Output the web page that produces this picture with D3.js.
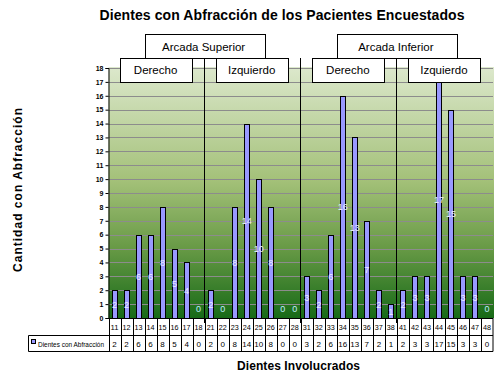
<!DOCTYPE html>
<html>
<head>
<meta charset="utf-8">
<script src="https://cdn.jsdelivr.net/npm/d3@7"></script>
<style>
  body { margin: 0; background: #fff; }
  svg { font-family: "Liberation Sans", Arial, sans-serif; }
</style>
</head>
<body>
<svg width="499" height="379"></svg>
<script>
// data
var teeth = ["11","12","13","14","15","16","17","18",
             "21","22","23","24","25","26","27","28",
             "31","32","33","34","35","36","37","38",
             "41","42","43","44","45","46","47","48"];
var abfraccion = [2,2,6,6,8,5,4,0, 2,0,8,14,10,8,0,0, 3,2,6,16,13,7,2,1, 2,3,3,17,15,3,3,0];
var yTicks = d3.range(0, 19);
var arcadas = [{name: "Arcada Superior", from: "11", to: "28"}, {name: "Arcada Inferior", from: "31", to: "48"}];
var lados = [{name: "Derecho", from: "11", to: "18"}, {name: "Izquierdo", from: "21", to: "28"},
             {name: "Derecho", from: "31", to: "38"}, {name: "Izquierdo", from: "41", to: "48"}];
var separadores = ["21", "31", "41"];
var serieName = "Dientes con Abfracción";

var svg = d3.select("svg");
var pLeft = 108.5, pRight = 493, pTop = 68, pBottom = 318;

var x = d3.scaleBand().domain(teeth).range([pLeft, pRight]);
var y = d3.scaleLinear().domain([0, 18]).range([pBottom, pTop]);

// background gradient
var defs = svg.append("defs");
var grad = defs.append("linearGradient").attr("id", "bg")
  .attr("x1", 0).attr("y1", 0).attr("x2", 0).attr("y2", 1);
grad.append("stop").attr("offset", "0%").attr("stop-color", "#dce8cc");
grad.append("stop").attr("offset", "45%").attr("stop-color", "#a4c179");
grad.append("stop").attr("offset", "72%").attr("stop-color", "#689a46");
grad.append("stop").attr("offset", "100%").attr("stop-color", "#176a17");

svg.append("rect").attr("x", pLeft).attr("y", pTop - 1)
  .attr("width", pRight - pLeft + 1).attr("height", pBottom - pTop + 1)
  .attr("fill", "url(#bg)");

// gridlines
svg.append("g").selectAll("line").data(yTicks.filter(function(d) { return d > 0; }))
  .enter().append("line")
  .attr("x1", pLeft).attr("x2", pRight)
  .attr("y1", function(d) { return Math.round(y(d)) + 0.5; })
  .attr("y2", function(d) { return Math.round(y(d)) + 0.5; })
  .attr("stroke", "#8c8c8c").attr("stroke-width", 1);

// bars
var bw = 5;
svg.append("g").selectAll("rect").data(abfraccion)
  .enter().append("rect")
  .attr("x", function(d, i) { return Math.round(x(teeth[i]) + x.bandwidth() / 2 - bw / 2) + 0.5; })
  .attr("y", function(d) { return Math.round(y(d)) + 0.5; })
  .attr("width", bw)
  .attr("height", function(d) { return Math.max(0, Math.round(pBottom - y(d))); })
  .attr("fill", "#9999ff")
  .attr("stroke", function(d) { return d > 0 ? "#000" : "none"; })
  .attr("stroke-width", 1);

// data labels
svg.append("g").selectAll("text").data(abfraccion)
  .enter().append("text")
  .attr("x", function(d, i) { return x(teeth[i]) + x.bandwidth() / 2; })
  .attr("y", function(d) { return y(d > 0 ? d / 2 : 0.7) + 3.5; })
  .attr("text-anchor", "middle")
  .attr("font-size", "9px")
  .attr("fill", function(d) { return d > 0 ? "#eef0ff" : "#bfeeff"; })
  .text(function(d) { return d; });

// y axis
var yAxis = svg.append("g").attr("transform", "translate(" + pLeft + ",0)")
  .call(d3.axisLeft(y).tickValues(yTicks).tickSize(3).tickPadding(2).tickFormat(d3.format("d")));
yAxis.select(".domain").attr("stroke", "#000");
yAxis.selectAll("text").attr("font-size", "7px").attr("font-weight", "bold").attr("fill", "#000");
yAxis.selectAll("line").attr("stroke", "#000");

// x axis line
svg.append("line").attr("x1", pLeft).attr("x2", pRight)
  .attr("y1", pBottom + 0.5).attr("y2", pBottom + 0.5).attr("stroke", "#000");

// table
var rowTop = pBottom, rowMid = 335.5, rowBot = 351.5, legLeft = 28.5;
var table = svg.append("g");
table.selectAll("line.col").data(teeth.concat(["end"]))
  .enter().append("line")
  .attr("x1", function(d) { return d === "end" ? pRight : Math.round(x(d)) + 0.5; })
  .attr("x2", function(d) { return d === "end" ? pRight : Math.round(x(d)) + 0.5; })
  .attr("y1", rowTop).attr("y2", rowBot)
  .attr("stroke", "#000");
table.append("line").attr("x1", legLeft).attr("x2", pRight)
  .attr("y1", rowMid).attr("y2", rowMid).attr("stroke", "#000");
table.append("line").attr("x1", legLeft).attr("x2", pRight)
  .attr("y1", rowBot).attr("y2", rowBot).attr("stroke", "#000");
table.append("line").attr("x1", legLeft).attr("x2", legLeft)
  .attr("y1", rowMid).attr("y2", rowBot).attr("stroke", "#000");

table.selectAll("text.cat").data(teeth)
  .enter().append("text")
  .attr("x", function(d) { return x(d) + x.bandwidth() / 2; })
  .attr("y", 330)
  .attr("text-anchor", "middle").attr("font-size", "8px")
  .attr("textLength", 8).attr("lengthAdjust", "spacingAndGlyphs")
  .text(function(d) { return d; });
table.selectAll("text.val").data(abfraccion)
  .enter().append("text")
  .attr("x", function(d, i) { return x(teeth[i]) + x.bandwidth() / 2; })
  .attr("y", 347)
  .attr("text-anchor", "middle").attr("font-size", "8px")
  .text(function(d) { return d; });

table.append("rect").attr("x", 31.5).attr("y", 339.5).attr("width", 4).attr("height", 4)
  .attr("fill", "#9999ff").attr("stroke", "#000");
table.append("text").attr("x", 38).attr("y", 347)
  .attr("font-size", "7px").attr("textLength", 66).attr("lengthAdjust", "spacingAndGlyphs")
  .text(serieName);

// separators
svg.append("g").selectAll("line").data(separadores)
  .enter().append("line")
  .attr("x1", function(d) { return Math.round(x(d)) - 0.5; })
  .attr("x2", function(d) { return Math.round(x(d)) - 0.5; })
  .attr("y1", 58).attr("y2", 323)
  .attr("stroke", "#000").attr("stroke-width", 1);

// header boxes
function span(d) { return [x(d.from), x(d.to) + x.bandwidth()]; }
var arc = svg.append("g").selectAll("g").data(arcadas).enter().append("g");
arc.append("rect")
  .attr("x", function(d) { var s = span(d); return Math.round((s[0] + s[1]) / 2 - 60) + 0.5; })
  .attr("y", 34.5).attr("width", 120).attr("height", 24)
  .attr("fill", "#fff").attr("stroke", "#000");
arc.append("text")
  .attr("x", function(d) { var s = span(d); return (s[0] + s[1]) / 2 - 1; })
  .attr("y", 51).attr("text-anchor", "middle").attr("font-size", "11.5px")
  .text(function(d) { return d.name; });

var lad = svg.append("g").selectAll("g").data(lados).enter().append("g");
lad.append("rect")
  .attr("x", function(d) { var s = span(d); return Math.round((s[0] + s[1]) / 2 - 36) - 0.5; })
  .attr("y", 58.5).attr("width", 72).attr("height", 24)
  .attr("fill", "#fff").attr("stroke", "#000");
lad.append("text")
  .attr("x", function(d) { var s = span(d); return (s[0] + s[1]) / 2 - 1; })
  .attr("y", 74).attr("text-anchor", "middle").attr("font-size", "11.5px")
  .text(function(d) { return d.name; });

// titles
svg.append("text").attr("x", 282).attr("y", 20).attr("text-anchor", "middle")
  .attr("font-size", "14px").attr("font-weight", "bold")
  .attr("textLength", 365).attr("lengthAdjust", "spacing")
  .text("Dientes con Abfracción de los Pacientes Encuestados");
svg.append("text").attr("x", 298.5).attr("y", 370).attr("text-anchor", "middle")
  .attr("font-size", "12px").attr("font-weight", "bold")
  .attr("textLength", 123).attr("lengthAdjust", "spacing")
  .text("Dientes Involucrados");
svg.append("text").attr("transform", "translate(22,190) rotate(-90)")
  .attr("text-anchor", "middle")
  .attr("font-size", "12px").attr("font-weight", "bold")
  .attr("textLength", 164).attr("lengthAdjust", "spacing")
  .text("Cantidad con Abfracción");
</script>
</body>
</html>
